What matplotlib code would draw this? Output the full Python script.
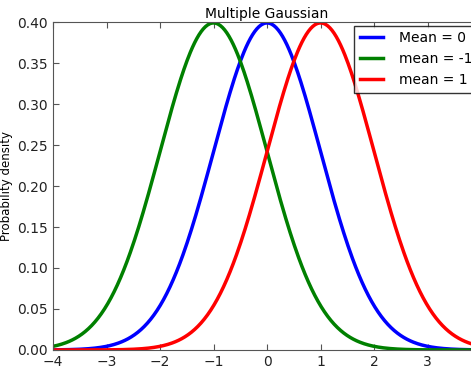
import numpy as np
import matplotlib
matplotlib.use("Agg")
import matplotlib.pyplot as plt

means = [0, -1, 1]
sigmas = [1, 1, 1]
labels = ["Mean = 0", "mean = -1", "mean = 1"]
colors = ["b", "g", "r"]

plt.rcParams["font.size"] = 10
plt.rcParams["xtick.direction"] = "in"
plt.rcParams["ytick.direction"] = "in"
plt.rcParams["xtick.top"] = True
plt.rcParams["ytick.right"] = True

fig = plt.figure(figsize=(4.71, 3.68), dpi=100)
ax = fig.add_axes([0.1125, 0.049, 0.909, 0.891])

x = np.linspace(-4, 4, 400)
for m, s, lab, c in zip(means, sigmas, labels, colors):
    y = np.exp(-0.5 * ((x - m) / s) ** 2) / (s * np.sqrt(2 * np.pi))
    ax.plot(x, y, color=c, linewidth=2.5, label=lab)

ax.set_xlim(-4, 4)
ax.set_ylim(0, 0.40)
ax.set_yticks(np.arange(0, 0.41, 0.05))
ax.set_title("Multiple Gaussian", fontsize=10, pad=3)
ax.set_ylabel("Probability density", fontsize=8.5, labelpad=3)
for sp in ax.spines.values():
    sp.set_color("#555555")
ax.tick_params(colors="#222222", length=4, color="#555555")

leg = ax.legend(loc="upper right", fancybox=False, edgecolor="black",
                borderaxespad=0.25, handlelength=1.7, handletextpad=1.1,
                fontsize=10)
leg.get_frame().set_linewidth(1.0)

fig.savefig("out.png", dpi=100)
